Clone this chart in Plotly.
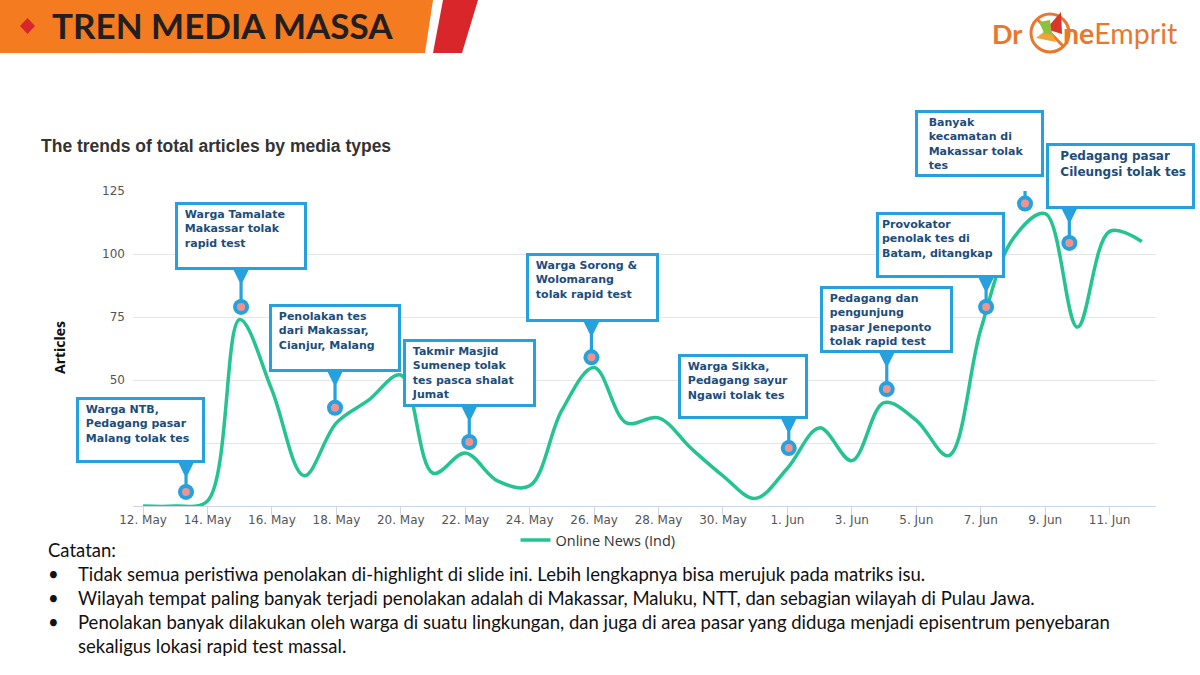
import plotly.graph_objects as go
import pandas as pd

# ---------------- data ----------------
dates = pd.date_range("2020-05-12", "2020-06-12", freq="D")
online_news = [0, 0, 2, 74, 46, 12, 33, 42, 52, 13, 21, 10, 8, 38, 55, 33,
               35, 23, 12, 3, 15, 31, 18, 41, 34, 20, 70, 106, 116, 71, 109, 105]

event_dates = ["2020-05-13 08:00", "2020-05-15 01:00", "2020-05-17 23:00",
               "2020-05-22 03:00", "2020-05-25 22:00", "2020-06-01 01:00",
               "2020-06-04 02:00", "2020-06-07 04:00", "2020-06-08 09:00",
               "2020-06-09 18:00"]
event_values = [5.6, 79, 39, 25.4, 59, 23, 46.4, 79, 120, 104.4]
event_lines = [
    ["Warga NTB,", "Pedagang pasar", "Malang tolak tes"],
    ["Warga Tamalate", "Makassar tolak", "rapid test"],
    ["Penolakan tes", "dari Makassar,", "Cianjur, Malang"],
    ["Takmir Masjid", "Sumenep tolak", "tes pasca shalat", "Jumat"],
    ["Warga Sorong &amp;", "Wolomarang", "tolak rapid test"],
    ["Warga Sikka,", "Pedagang sayur", "Ngawi tolak tes"],
    ["Pedagang dan", "pengunjung", "pasar Jeneponto", "tolak rapid test"],
    ["Provokator", "penolak tes di", "Batam, ditangkap"],
    ["Banyak", "kecamatan di", "Makassar tolak", "tes"],
    ["Pedagang pasar", "Cileungsi tolak tes"],
]

y_ticks = [25, 50, 75, 100, 125]
y_ticktext = ["", "50", "75", "100", "125"]   # "25" is hidden behind a callout

title_text = "The trends of total articles by media types"
series_name = "Online News (Ind)"
header_text = "TREN MEDIA MASSA"
notes_title = "Catatan:"
notes = [
    "Tidak semua peristiwa penolakan di-highlight di slide ini. Lebih lengkapnya bisa merujuk pada matriks isu.",
    "Wilayah tempat paling banyak terjadi penolakan adalah di Makassar, Maluku, NTT, dan sebagian wilayah di Pulau Jawa.",
    "Penolakan banyak dilakukan oleh warga di suatu lingkungan, dan juga di area pasar yang diduga menjadi episentrum penyebaran",
    "sekaligus lokasi rapid test massal.",
]

# ---------------- layout (pixel geometry) ----------------
W_FIG, H_FIG = 1200, 675
L, R, T, B = 133, 1156, 191, 506
PW, PH = R - L, B - T


def px(x):
    return (x - L) / PW


def py(y):
    return (B - y) / PH


# callout box geometry: x-offset of box centre, gap above pin, box size, font
box_dx = [-46, 0, 0, 0, 1, -46, 0, -46, -46, 51]
box_gap = [29, 37, 36, 35, 35, 29, 36, 29, 27, 34]
box_w = [126, 129, 129, 130, 130, 127, 130, 126, 126, 146]
box_h = [63, 65, 65, 65, 66, 62, 64, 63, 64, 63]
box_font = [11, 11, 11, 11, 11, 11, 11, 11, 11, 12]
box_indent = [1, 1, 1, 1, 1, 1, 1, 0, 2, 2]

LINE_COLOR = "#23c48f"
BLUE = "#25a2de"
PINK = "#f0928f"
NAVY = "#1d4d7b"
ORANGE = "#f47b20"
RED = "#d8262b"

fig = go.Figure()

fig.add_trace(go.Scatter(
    x=dates, y=online_news, mode="lines", name=series_name,
    line=dict(color=LINE_COLOR, width=3.5, shape="spline", smoothing=1.0),
    hoverinfo="x+y",
))

shapes = []
annotations = []

# stems + callout boxes
for d, v, lines, dx, gap, w, h, fs, ind in zip(event_dates, event_values, event_lines,
                                                box_dx, box_gap, box_w, box_h,
                                                box_font, box_indent):
    g = gap + 1
    path = (f"M -8,{g} L 8,{g} L 1.6,{g-13} L 1.6,6 L -1.6,6 L -1.6,{g-13} Z")
    shapes.append(dict(type="path", xref="x", yref="y",
                       xsizemode="pixel", ysizemode="pixel",
                       xanchor=d, yanchor=v, path=path,
                       fillcolor=BLUE, line=dict(width=0), layer="above"))
    pad = 3
    lead = "&nbsp;" * ind
    text = "<br>".join(lead + ln for ln in lines)
    annotations.append(dict(
        x=d, y=v, xref="x", yref="y", showarrow=False,
        xanchor="center", yanchor="bottom", xshift=dx, yshift=gap,
        text=f"<b>{text}</b>", align="left", valign="top",
        width=w - 2 * pad - 3, height=h - 2 * pad - 3,
        bgcolor="white", bordercolor=BLUE, borderwidth=3, borderpad=pad,
        font=dict(family="DejaVu Sans, Verdana, sans-serif", size=fs, color=NAVY),
    ))

# pins (drawn after stems so they sit on top)
fig.add_trace(go.Scatter(
    x=pd.to_datetime(event_dates), y=event_values, mode="markers",
    marker=dict(size=16, color=BLUE), showlegend=False, hoverinfo="skip",
    cliponaxis=False,
))
fig.add_trace(go.Scatter(
    x=pd.to_datetime(event_dates), y=event_values, mode="markers",
    marker=dict(size=8, color=PINK), showlegend=False, hoverinfo="skip",
    cliponaxis=False,
))

# header bar
shapes.append(dict(type="path", xref="paper", yref="paper", layer="above",
                   path=f"M {px(0)},{py(0)} L {px(433)},{py(0)} L {px(425)},{py(53)} L {px(0)},{py(53)} Z",
                   fillcolor=ORANGE, line=dict(width=0)))
shapes.append(dict(type="path", xref="paper", yref="paper", layer="above",
                   path=f"M {px(443)},{py(0)} L {px(478)},{py(0)} L {px(462)},{py(53)} L {px(433)},{py(53)} Z",
                   fillcolor=RED, line=dict(width=0)))
shapes.append(dict(type="path", xref="paper", yref="paper", layer="above",
                   path=f"M {px(27.5)},{py(18)} L {px(35)},{py(26)} L {px(27.5)},{py(34)} L {px(20)},{py(26)} Z",
                   fillcolor=RED, line=dict(width=0)))
annotations.append(dict(x=px(50), y=py(25), xref="paper", yref="paper",
                        xanchor="left", yanchor="middle", showarrow=False,
                        text=f"<b>{header_text}</b>",
                        font=dict(family="Lato, sans-serif", size=35, color="#231f20")))

# logo
LOGO = "#e9782f"
annotations.append(dict(x=px(1024), y=py(33), xref="paper", yref="paper",
                        xanchor="right", yanchor="middle", showarrow=False,
                        text="<b>Dr</b>",
                        font=dict(family="Lato, sans-serif", size=27, color=LOGO)))
annotations.append(dict(x=px(1061), y=py(33), xref="paper", yref="paper",
                        xanchor="left", yanchor="middle", showarrow=False,
                        text="<b>ne</b>Emprit",
                        font=dict(family="Lato, sans-serif", size=28.5, color=LOGO)))
shapes.append(dict(type="circle", xref="paper", yref="paper", layer="above",
                   x0=px(1031), x1=px(1069), y0=py(52), y1=py(14),
                   line=dict(color=LOGO, width=3)))
shapes.append(dict(type="line", xref="paper", yref="paper", layer="above",
                   x0=px(1037), x1=px(1063), y0=py(19), y1=py(46),
                   line=dict(color=LOGO, width=3)))
shapes.append(dict(type="path", xref="paper", yref="paper", layer="above",
                   path=f"M {px(1036)},{py(38)} L {px(1050)},{py(27)} L {px(1056)},{py(42)} Z",
                   fillcolor="#f2a33a", line=dict(width=0)))
shapes.append(dict(type="path", xref="paper", yref="paper", layer="above",
                   path=f"M {px(1046)},{py(29)} L {px(1061)},{py(12)} L {px(1062)},{py(34)} Z",
                   fillcolor="#d9362b", line=dict(width=0)))
shapes.append(dict(type="path", xref="paper", yref="paper", layer="above",
                   path=f"M {px(1039)},{py(22)} L {px(1050)},{py(20)} L {px(1052)},{py(35)} L {px(1044)},{py(33)} Z",
                   fillcolor="#8cc13f", line=dict(width=0)))

# chart title
annotations.append(dict(x=px(39), y=py(146), xref="paper", yref="paper",
                        xanchor="left", yanchor="middle", showarrow=False,
                        text=f"<b>{title_text}</b>",
                        font=dict(family="Liberation Sans, Arial, sans-serif", size=17.5, color="#333333")))
# y axis title
annotations.append(dict(x=px(59), y=py(348), xref="paper", yref="paper",
                        xanchor="center", yanchor="middle", showarrow=False,
                        textangle=-90, text="<b>Articles</b>",
                        font=dict(family="Open Sans, sans-serif", size=14, color="#111111")))

# notes
NOTE_FONT = dict(family="Lato, sans-serif", size=18.5, color="#111111")
annotations.append(dict(x=px(46), y=py(550), xref="paper", yref="paper",
                        xanchor="left", yanchor="middle", showarrow=False,
                        text=notes_title, font=NOTE_FONT))
note_y = [574, 598, 622, 646]
for i, (line_txt, ny) in enumerate(zip(notes, note_y)):
    annotations.append(dict(x=px(76), y=py(ny), xref="paper", yref="paper",
                            xanchor="left", yanchor="middle", showarrow=False,
                            text=line_txt, font=NOTE_FONT))
    if i < 3:
        annotations.append(dict(x=px(53), y=py(ny), xref="paper", yref="paper",
                                xanchor="center", yanchor="middle", showarrow=False,
                                text="•", font=NOTE_FONT))

fig.update_layout(
    width=W_FIG, height=H_FIG, autosize=False,
    margin=dict(l=L, r=W_FIG - R, t=T, b=H_FIG - B),
    paper_bgcolor="white", plot_bgcolor="white",
    shapes=shapes, annotations=annotations,
    showlegend=True,
    legend=dict(x=px(598), y=py(540), xanchor="center", yanchor="middle",
                orientation="h", bgcolor="rgba(0,0,0,0)", itemwidth=30,
                font=dict(family="Open Sans, sans-serif", size=14.5, color="#333333")),
    xaxis=dict(
        type="date",
        range=[pd.Timestamp("2020-05-12") - pd.Timedelta(hours=7.5),
               pd.Timestamp("2020-05-12") + pd.Timedelta(hours=31.44 * 24)],
        tick0="2020-05-12", dtick=2 * 86400000, tickformat="%-d. %b",
        showgrid=False, showline=True, linecolor="#ccd6eb", linewidth=1,
        ticks="outside", ticklen=8, tickcolor="#ccd6eb", ticklabelstandoff=-5,
        tickfont=dict(family="DejaVu Sans, sans-serif", size=12, color="#555555"),
        zeroline=False, fixedrange=True,
    ),
    yaxis=dict(
        range=[0, 125], tickvals=y_ticks, ticktext=y_ticktext,
        showgrid=True, gridcolor="#e6e6e6", gridwidth=1,
        zeroline=False, showline=False, ticks="", ticklabelstandoff=7,
        tickfont=dict(family="DejaVu Sans, sans-serif", size=12, color="#555555"),
        fixedrange=True,
    ),
)

fig.write_html("out.html", config={"displayModeBar": False},
               post_script="document.body.style.margin='0';document.body.style.overflow='hidden';")
